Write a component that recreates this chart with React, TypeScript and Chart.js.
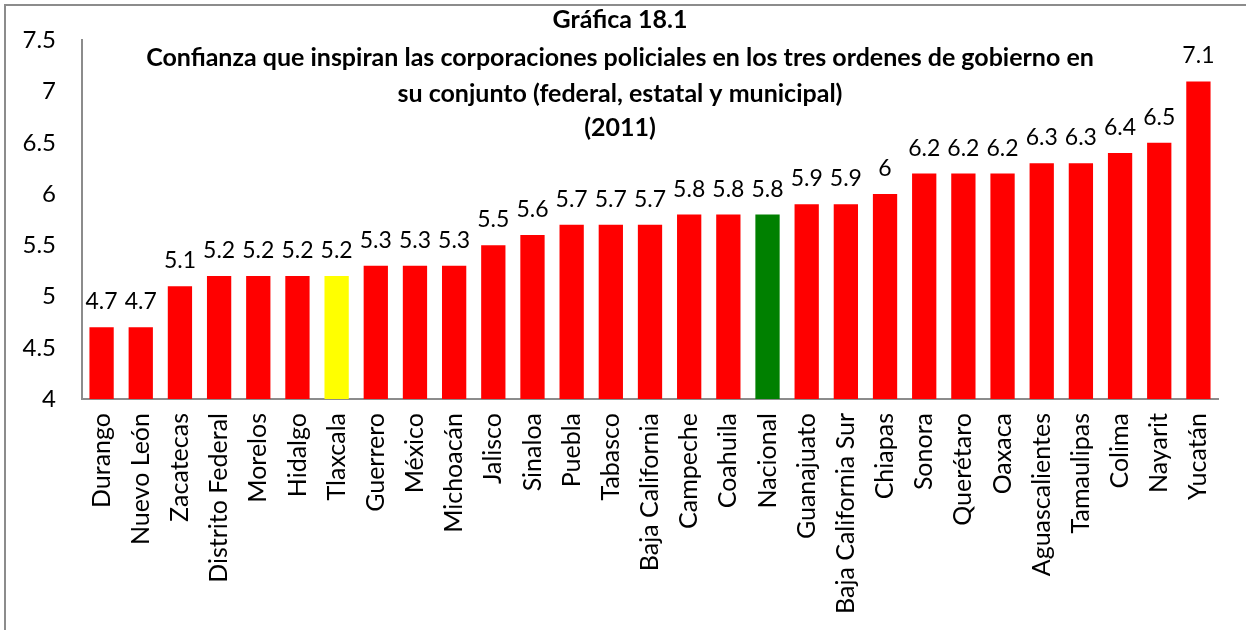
import React, { useEffect, useRef } from "react";
import { Chart, registerables } from "chart.js";

Chart.register(...registerables);

const categories = [
  "Durango", "Nuevo León", "Zacatecas", "Distrito Federal", "Morelos", "Hidalgo",
  "Tlaxcala", "Guerrero", "México", "Michoacán", "Jalisco", "Sinaloa", "Puebla",
  "Tabasco", "Baja California", "Campeche", "Coahuila", "Nacional", "Guanajuato",
  "Baja California Sur", "Chiapas", "Sonora", "Querétaro", "Oaxaca",
  "Aguascalientes", "Tamaulipas", "Colima", "Nayarit", "Yucatán",
];

const values = [
  4.7, 4.7, 5.1, 5.2, 5.2, 5.2, 5.2, 5.3, 5.3, 5.3, 5.5, 5.6, 5.7, 5.7, 5.7,
  5.8, 5.8, 5.8, 5.9, 5.9, 6, 6.2, 6.2, 6.2, 6.3, 6.3, 6.4, 6.5, 7.1,
];

const highlightYellow = ["Tlaxcala"];
const highlightGreen = ["Nacional"];

const titleLines = [
  "Gráfica 18.1",
  "Confianza que inspiran las corporaciones policiales en los tres ordenes de gobierno en",
  "su conjunto (federal, estatal y municipal)",
  "(2011)",
];

const yMin = 4;
const yMax = 7.5;
const yStep = 0.5;

const FONT = "Lato, 'Liberation Sans', sans-serif";

export default function App() {
  const canvasRef = useRef<HTMLCanvasElement | null>(null);

  useEffect(() => {
    const canvas = canvasRef.current;
    if (!canvas) return;

    const colors = categories.map((c) =>
      highlightYellow.includes(c) ? "#FFFF00" : highlightGreen.includes(c) ? "#008000" : "#FF0000"
    );

    const framePlugin = {
      id: "frame",
      beforeDraw(chart: any) {
        const ctx = chart.ctx;
        ctx.save();
        ctx.fillStyle = "#ffffff";
        ctx.fillRect(0, 0, chart.width, chart.height);
        ctx.strokeStyle = "#8c8c8c";
        ctx.lineWidth = 2;
        ctx.strokeRect(5, 5, chart.width + 20, chart.height + 20);
        ctx.restore();
      },
    };

    const titlePlugin = {
      id: "customTitle",
      afterDraw(chart: any) {
        const ctx = chart.ctx;
        ctx.save();
        ctx.fillStyle = "#000";
        ctx.font = `bold 25px ${FONT}`;
        ctx.textAlign = "center";
        ctx.textBaseline = "middle";
        const cx = chart.width / 2 - 3;
        const ys = [20, 58, 94, 128];
        titleLines.forEach((t, i) => ctx.fillText(t, cx, ys[i]));
        ctx.restore();
      },
    };

    const labelPlugin = {
      id: "valueLabels",
      afterDatasetsDraw(chart: any) {
        const ctx = chart.ctx;
        const meta = chart.getDatasetMeta(0);
        ctx.save();
        ctx.fillStyle = "#000";
        ctx.font = `23px ${FONT}`;
        ctx.textAlign = "center";
        ctx.textBaseline = "alphabetic";
        meta.data.forEach((bar: any, i: number) => {
          ctx.fillText(String(values[i]), bar.x, bar.y - 18);
        });
        ctx.restore();
      },
    };

    const chart = new Chart(canvas, {
      type: "bar",
      data: {
        labels: categories,
        datasets: [
          {
            data: values,
            backgroundColor: colors,
            borderWidth: 0,
            categoryPercentage: 1,
            barPercentage: 0.62,
          },
        ],
      },
      options: {
        animation: false,
        responsive: false,
        layout: { padding: { left: 0, right: 28, top: 35, bottom: 0 } },
        plugins: {
          legend: { display: false },
          title: { display: false },
          tooltip: { enabled: false },
        },
        scales: {
          x: {
            grid: { display: false, drawTicks: false },
            border: { display: true, color: "#8c8c8c", width: 2 },
            ticks: {
              autoSkip: false,
              maxRotation: 90,
              minRotation: 90,
              padding: 14,
              color: "#000",
              font: { family: FONT, size: 25 },
            },
            afterFit(scale: any) {
              scale.height = 231;
            },
          },
          y: {
            min: yMin,
            max: yMax,
            grid: { display: false, drawTicks: false },
            border: { display: true, color: "#8c8c8c", width: 2 },
            ticks: {
              stepSize: yStep,
              padding: 26,
              color: "#000",
              font: { family: FONT, size: 24 },
              callback: (v: any) => String(Number(v)),
            },
            afterFit(scale: any) {
              scale.width = 82;
            },
          },
        },
      },
      plugins: [framePlugin, titlePlugin, labelPlugin],
    });

    return () => chart.destroy();
  }, []);

  return (
    <div style={{ position: "absolute", left: 0, top: 0, width: 1246, height: 630, background: "#fff" }}>
      <canvas ref={canvasRef} width={1246} height={630} style={{ display: "block" }} />
    </div>
  );
}
